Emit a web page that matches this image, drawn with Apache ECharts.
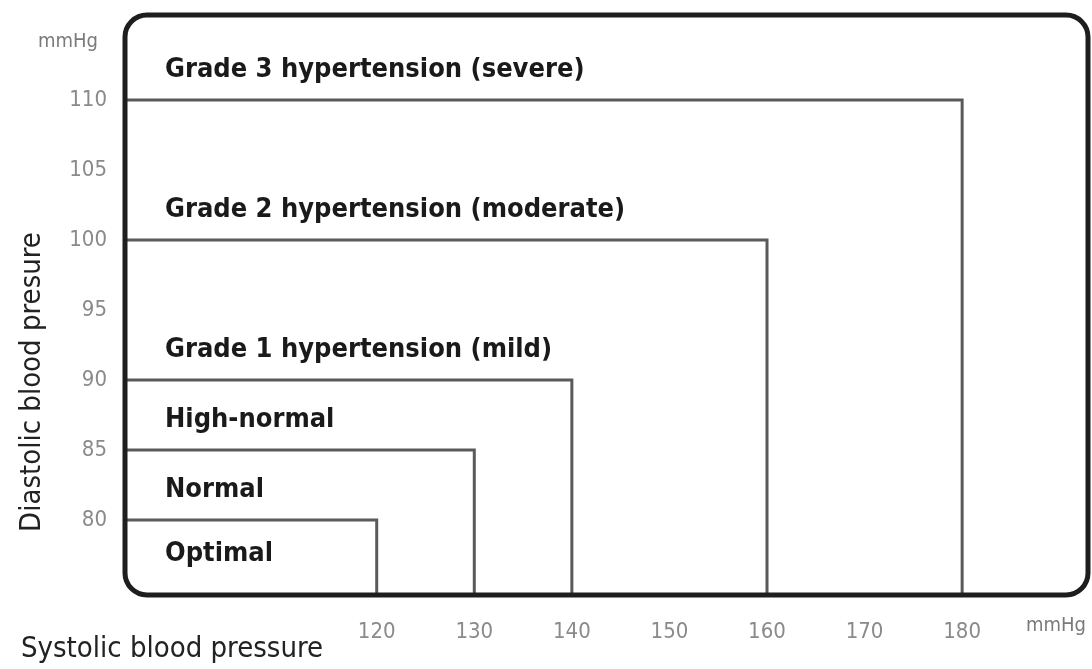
<!DOCTYPE html>
<html>
<head>
<meta charset="utf-8">
<script src="https://cdn.jsdelivr.net/npm/echarts@6/dist/echarts.min.js"></script>
<style>html,body{margin:0;padding:0;background:#fff;}#c{width:1092px;height:669px;}</style>
</head>
<body>
<div id="c"></div>
<script>
// Blood pressure classification
const categories = ['Optimal', 'Normal', 'High-normal', 'Grade 1 hypertension (mild)', 'Grade 2 hypertension (moderate)', 'Grade 3 hypertension (severe)'];
// lower diastolic bound of each category (null = bottom of chart)
const diastolicLower = [null, 80, 85, 90, 100, 110];
// box corners (systolic, diastolic)
const systolicBounds = [120, 130, 140, 160, 180];
const diastolicBounds = [80, 85, 90, 100, 110];
const xTicks = [120, 130, 140, 150, 160, 170, 180];
const yTicks = [80, 85, 90, 95, 100, 105, 110];

const X_MIN = 94.2, X_MAX = 192.9, Y_MIN = 74.64, Y_MAX = 116.07;
const NARROW = "'Liberation Sans Narrow', 'DejaVu Sans Condensed', 'Open Sans', sans-serif";

const chart = echarts.init(document.getElementById('c'), null, {renderer: 'canvas'});
const boxData = systolicBounds.map((s, i) => [s, diastolicBounds[i]]);
const labelData = categories.map((c, i) => [X_MIN, diastolicLower[i] === null ? Y_MIN : diastolicLower[i], c]);

chart.setOption({
  backgroundColor: '#fff',
  animation: false,
  grid: {left: 125, right: 4, top: 15, bottom: 74},
  xAxis: {
    type: 'value', min: X_MIN, max: X_MAX,
    axisLine: {show: false}, axisTick: {show: false}, splitLine: {show: false},
    axisLabel: {customValues: xTicks, margin: 26, color: '#8a8a8a', fontFamily: NARROW, fontSize: 22}
  },
  yAxis: {
    type: 'value', min: Y_MIN, max: Y_MAX,
    axisLine: {show: false}, axisTick: {show: false}, splitLine: {show: false},
    axisLabel: {customValues: yTicks, margin: 18, color: '#8a8a8a', fontFamily: NARROW, fontSize: 22}
  },
  series: [
    {
      type: 'custom', silent: true, data: boxData,
      renderItem: function (params, api) {
        const c = api.coord([api.value(0), api.value(1)]);
        const l = api.coord([X_MIN, Y_MIN]);
        return {
          type: 'polyline',
          shape: {points: [[l[0], c[1]], [c[0], c[1]], [c[0], l[1]]]},
          style: {stroke: '#5a5a5a', lineWidth: 3, fill: null}
        };
      }
    },
    {
      type: 'custom', silent: true, data: labelData,
      renderItem: function (params, api) {
        const lowerPx = api.coord([X_MIN, api.value(1)]);
        const first = diastolicLower[params.dataIndex] === null;
        let y;
        if (first) {
          const top = api.coord([X_MIN, diastolicBounds[0]]);
          y = (top[1] + lowerPx[1]) / 2 - 3;
        } else {
          y = lowerPx[1] - 30;
        }
        return {
          type: 'text',
          style: {
            x: lowerPx[0] + 40, y: y, text: categories[params.dataIndex],
            fill: '#1a1a1a', font: "bold 27px " + NARROW, textVerticalAlign: 'middle', textAlign: 'left'
          }
        };
      }
    },
    {
      type: 'custom', silent: true, data: [[X_MIN, Y_MIN]],
      renderItem: function (params, api) {
        const bl = api.coord([X_MIN, Y_MIN]);
        const tr = api.coord([X_MAX, Y_MAX]);
        return {
          type: 'rect',
          shape: {x: bl[0], y: tr[1], width: tr[0] - bl[0], height: bl[1] - tr[1], r: 22},
          style: {stroke: '#1e1e1e', lineWidth: 5, fill: null}
        };
      }
    }
  ],
  graphic: [
    {type: 'text', left: 38, top: 32, style: {text: 'mmHg', fill: '#7a7a7a', font: "20px " + NARROW}},
    {type: 'text', left: 1026, top: 616, style: {text: 'mmHg', fill: '#7a7a7a', font: "20px " + NARROW}},
    {type: 'text', left: 21, top: 635, style: {text: 'Systolic blood pressure', fill: '#222', font: "29px " + NARROW}},
    {type: 'text', x: 32, y: 382, rotation: Math.PI / 2, style: {text: 'Diastolic blood presure', fill: '#222', font: "29px " + NARROW, textAlign: 'center', textVerticalAlign: 'middle'}}
  ]
});
</script>
</body>
</html>
